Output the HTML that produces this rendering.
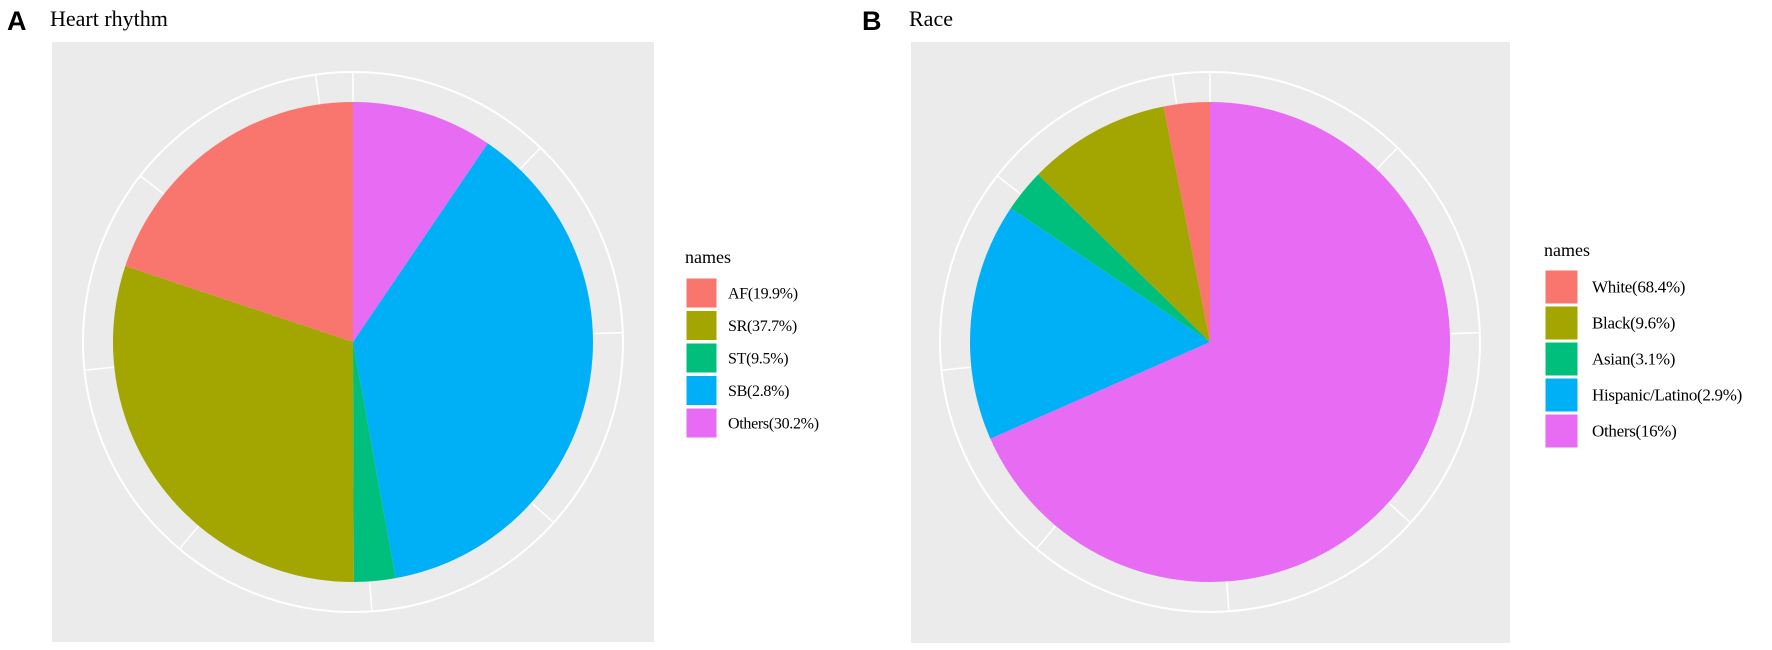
<!DOCTYPE html>
<html><head><meta charset="utf-8"><style>
body{margin:0;background:#fff;width:1772px;height:650px;overflow:hidden}
svg{display:block}
.serif{font-family:"Liberation Serif",serif}
.sans{font-family:"Liberation Sans",sans-serif}
</style></head><body>
<svg id="fig" width="1772" height="650" xmlns="http://www.w3.org/2000/svg">
<text x="7" y="30" class="sans" font-size="27" font-weight="bold">A</text>
<text x="50" y="26" class="serif" font-size="22">Heart rhythm</text>
<text x="862" y="30" class="sans" font-size="27" font-weight="bold">B</text>
<text x="909" y="26" class="serif" font-size="22">Race</text>
<g id="pa"></g><g id="pb"></g>
</svg>
<script>
// Panel A: slices drawn clockwise from top
const aSliceValues = [9.5, 37.7, 2.8, 30.2, 19.9];
const aSliceColors = ["#E76BF3", "#00B0F6", "#00BF7D", "#A3A500", "#F8766D"];
const aLegendLabels = ["AF(19.9%)", "SR(37.7%)", "ST(9.5%)", "SB(2.8%)", "Others(30.2%)"];
const aLegendColors = ["#F8766D", "#A3A500", "#00BF7D", "#00B0F6", "#E76BF3"];
// Panel B
const bSliceValues = [68.4, 16, 2.9, 9.6, 3.1];
const bSliceColors = ["#E76BF3", "#00B0F6", "#00BF7D", "#A3A500", "#F8766D"];
const bLegendLabels = ["White(68.4%)", "Black(9.6%)", "Asian(3.1%)", "Hispanic/Latino(2.9%)", "Others(16%)"];
const bLegendColors = ["#F8766D", "#A3A500", "#00BF7D", "#00B0F6", "#E76BF3"];
const gridAngles = [0, 44, 88, 132, 176, 220, 264, 308, 352];

const NS = "http://www.w3.org/2000/svg";
function mk(tag, attrs, parent){const e=document.createElementNS(NS,tag);for(const k in attrs)e.setAttribute(k,attrs[k]);parent.appendChild(e);return e;}
function pt(cx,cy,r,deg){const a=deg*Math.PI/180;return [cx+r*Math.sin(a),cy-r*Math.cos(a)];}

function panel(g, box, cx, cy, values, colors, legLabels, legColors, leg){
  const bg=mk("rect",{x:box[0],y:box[1],width:box[2],height:box[3],fill:"#EBEBEB"},g);
  
  
  const R=240, RO=270;
  const ring=mk("circle",{cx:cx,cy:cy,r:RO,fill:"none",stroke:"#fff","stroke-width":2},g);
  
  
  gridAngles.forEach(a=>{const p=pt(cx,cy,RO,a);
    const l=mk("line",{x1:cx,y1:cy,x2:p[0],y2:p[1],stroke:"#fff","stroke-width":1.5},g);
    
    });
  const total=values.reduce((s,v)=>s+v,0);
  let start=0;
  values.forEach((v,i)=>{const sweep=v/total*360, end=start+sweep;
    const p1=pt(cx,cy,R,start), p2=pt(cx,cy,R,end);
    const d=`M${cx},${cy} L${p1[0]},${p1[1]} A${R},${R} 0 ${sweep>180?1:0} 1 ${p2[0]},${p2[1]} Z`;
    const s=mk("path",{d:d,fill:colors[i]},g);
    
    
    start=end;});
  const t=mk("text",{x:leg.x,y:leg.ty,class:"serif","font-size":18},g);t.textContent="names";
  
  
  legLabels.forEach((lab,i)=>{const y=leg.ky+i*leg.pitch;
    const k=mk("rect",{x:leg.x+1,y:y,width:leg.kw,height:leg.kh,fill:legColors[i],stroke:"#fff","stroke-width":1},g);
    
    
    const tx=mk("text",{x:leg.x+leg.tdx,y:y+leg.kh/2+5.5,class:"serif","font-size":leg.fs,"letter-spacing":"-0.3"},g);
    tx.textContent=lab;
    
    });
}
panel(document.getElementById("pa"),[52,42,602,600],353,342,aSliceValues,aSliceColors,aLegendLabels,aLegendColors,
  {x:685,ty:263,ky:278,pitch:32.5,kw:31,kh:30,tdx:43,fs:16});
panel(document.getElementById("pb"),[911,42,599,601],1210,342,bSliceValues,bSliceColors,bLegendLabels,bLegendColors,
  {x:1544,ty:256,ky:270,pitch:36,kw:33,kh:34,tdx:48,fs:17});
</script>
</body></html>
